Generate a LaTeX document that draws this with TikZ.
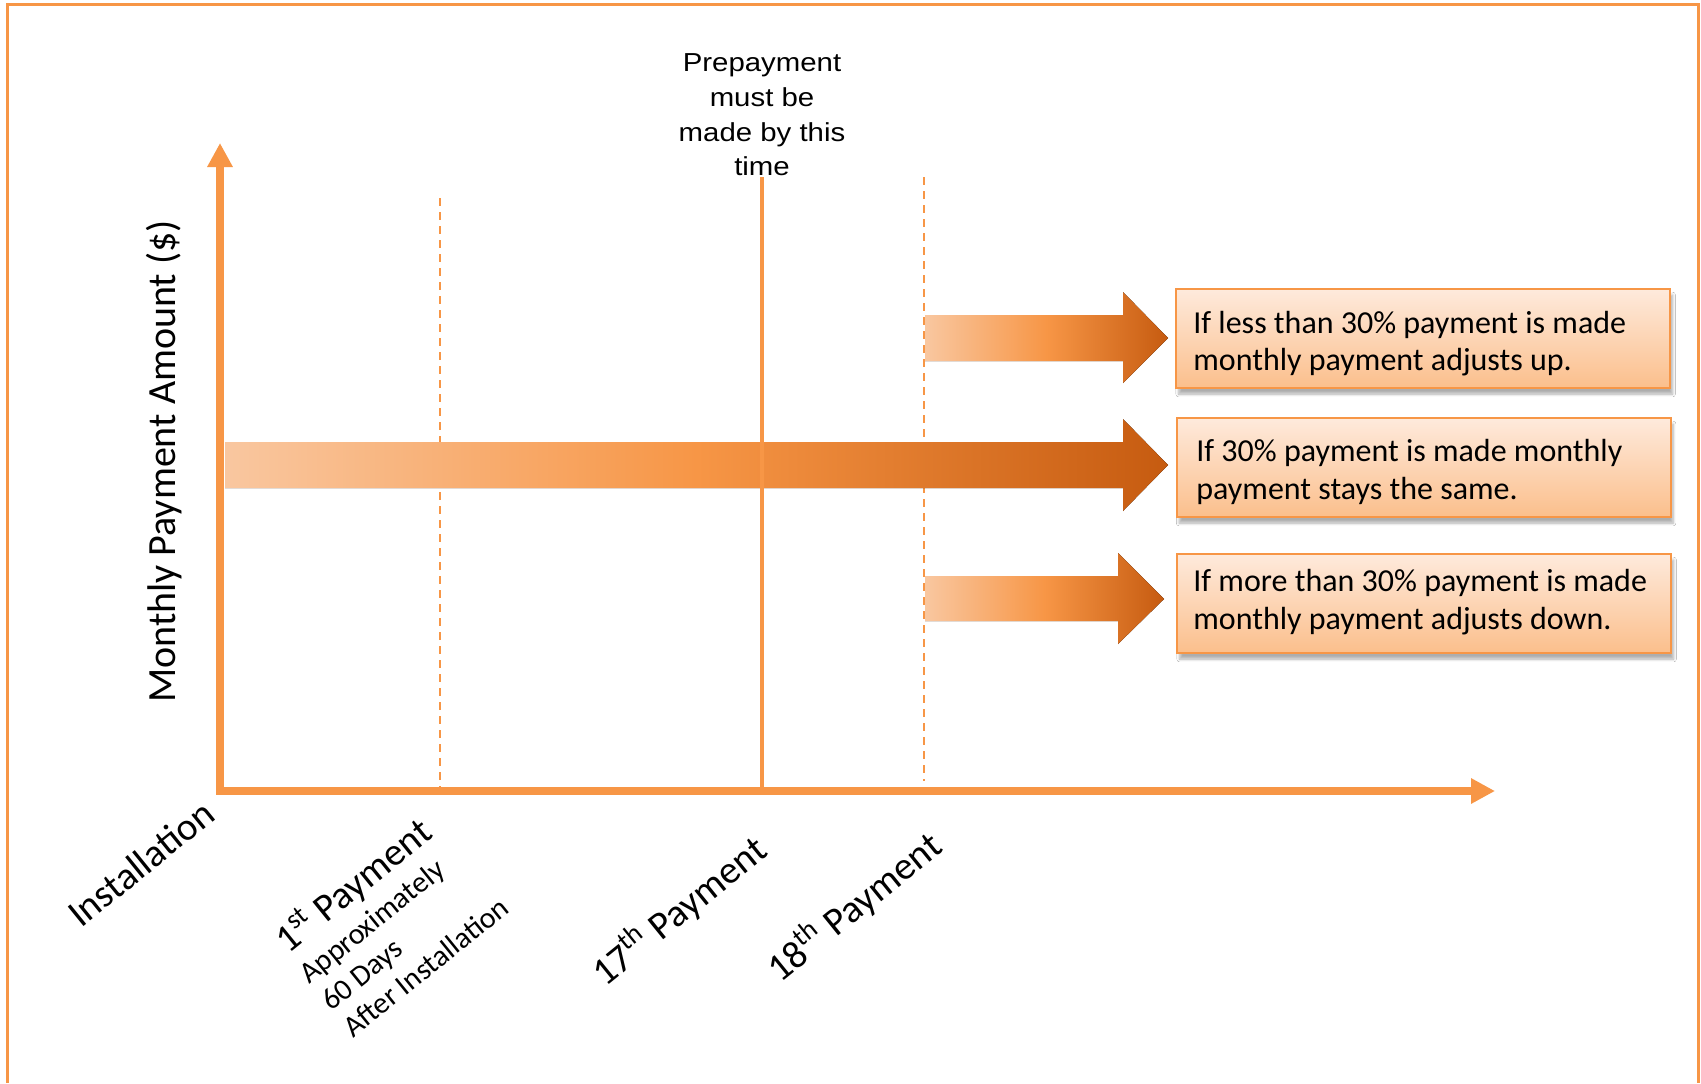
\documentclass[tikz,border=0pt]{standalone}
\usepackage{fontspec}
\setmainfont{Carlito}
\newfontfamily\arialfont{Liberation Sans}
\usetikzlibrary{arrows.meta,shadows.blur}
\definecolor{accent}{HTML}{F79646}
\definecolor{arrowlight}{HTML}{F9C7A0}
\definecolor{arrowdark}{HTML}{C65B10}
\definecolor{boxtop}{HTML}{FEEADC}
\definecolor{boxbottom}{HTML}{FBBF8C}
\tikzset{
  axisline/.style={draw=accent, line width=4pt, line join=miter},
  guide/.style={draw=accent, line width=1pt, dash pattern=on 4pt off 3pt},
  marker/.style={draw=accent, line width=2pt},
  fatarrow/.style={left color=arrowlight, right color=arrowdark, middle color=accent},
  outcome/.style={draw=accent, line width=1pt, top color=boxtop, bottom color=boxbottom,
    minimum width=247pt, minimum height=49.5pt, inner sep=0pt,
    blur shadow={shadow xshift=1.3pt, shadow yshift=-3pt, shadow blur radius=1.4pt,
      shadow blur steps=6, shadow opacity=32}},
  outtext/.style={font=\fontsize{16}{18.5}\selectfont, inner sep=0pt, anchor=base west},
  ticklabel/.style={font=\fontsize{19.5}{23}\selectfont, inner sep=0pt, rotate=39, anchor=base west},
  subtick/.style={font=\fontsize{15}{18}\selectfont, inner sep=0pt, rotate=39, anchor=base west},
  note/.style={font=\arialfont\fontsize{13}{15}\selectfont, inner sep=0pt, anchor=base,
    transform shape, xscale=1.13},
}
\begin{document}
\begin{tikzpicture}[x=0.5pt,y=-0.5pt]
\useasboundingbox (0,0) rectangle (1701,1083);
\fill[white] (0,0) rectangle (1701,1083);

% outer frame (bottom edge lies below the page)
\draw[accent, line width=1.5pt] (7,1083) -- (7,4) -- (1698,4) -- (1698,1083);

% key points of the chart
\coordinate (O) at (220,791);
\coordinate (ytip) at (220,143);
\coordinate (xtip) at (1495,791);
\coordinate (g1top) at (440,198);
\coordinate (g1bot) at (440,787);
\coordinate (g2top) at (924,177);
\coordinate (g2bot) at (924,781);
\coordinate (m17top) at (762,177);
\coordinate (m17bot) at (762,789);

% dashed payment guides
\draw[guide] (g1top) -- (g1bot);
\draw[guide] (g2top) -- (g2bot);

% outcome boxes
\node[outcome] (up)   at (1423,338.5) {};
\node[outcome] (same) at (1423.5,467.5) {};
\node[outcome] (down) at (1424,603.5) {};

% shaded block arrows
\fill[fatarrow] (925,315) -- (1123,315) -- (1123,292) -- (1168,338) -- (1123,383) -- (1123,361) -- (925,361) -- cycle;
\fill[fatarrow] (225,442) -- (1123,442) -- (1123,419) -- (1168,465) -- (1123,511) -- (1123,488) -- (225,488) -- cycle;
\fill[fatarrow] (925,576) -- (1118,576) -- (1118,553) -- (1164,599) -- (1118,644) -- (1118,621) -- (925,621) -- cycle;

% 17th payment marker
\draw[marker] (m17top) -- (m17bot);

% axes
\draw[axisline, {Triangle[width=12pt,length=12pt]}-{Triangle[width=12pt,length=12pt]}] (ytip) -- (O) -- (xtip);

% outcome texts
\node[outtext] (up1)   at (1193,333)   {If less than 30\% payment is made};
\node[outtext] (up2)   at (1193,370)   {monthly payment adjusts up.};
\node[outtext] (same1) at (1196,461.5) {If 30\% payment is made monthly};
\node[outtext] (same2) at (1196,499)   {payment stays the same.};
\node[outtext] (down1) at (1193,591.5) {If more than 30\% payment is made};
\node[outtext] (down2) at (1193,629)   {monthly payment adjusts down.};

% prepayment note
\node[note] (n1) at (762,71.7)  {Prepayment};
\node[note] (n2) at (762,106.5) {must be};
\node[note] (n3) at (762,141)   {made by this};
\node[note] (n4) at (762,175)   {time};

% axis title
\node[font=\fontsize{20}{24}\selectfont, inner sep=0pt, rotate=90, anchor=base] (ylab) at (175,461.5) {Monthly Payment Amount (\$)};

% time-axis labels
\node[ticklabel] (inst) at (81,929)  {Installation};
\node[ticklabel] (p1)   at (288,955) {1\textsuperscript{st} Payment};
\node[subtick]   (p1a)  at (309,985) {Approximately};
\node[subtick]   (p1b)  at (331,1012) {60 Days};
\node[subtick]   (p1c)  at (353,1039) {After Installation};
\node[ticklabel] (p17)  at (605,988) {17\textsuperscript{th} Payment};
\node[ticklabel] (p18)  at (780,984) {18\textsuperscript{th} Payment};
\end{tikzpicture}
\end{document}
